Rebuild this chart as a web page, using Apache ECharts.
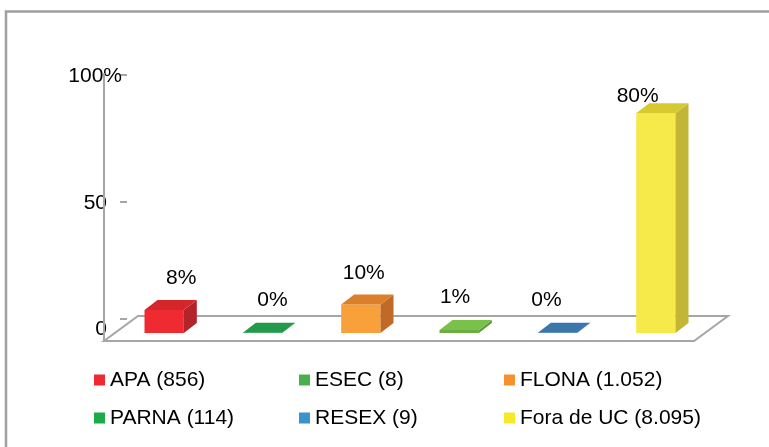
<!DOCTYPE html>
<html>
<head>
<meta charset="utf-8">
<script src="https://cdn.jsdelivr.net/npm/echarts@6/dist/echarts.min.js"></script>
<style>
    html, body { margin: 0; padding: 0; background: #fff; }
    #chart { width: 769px; height: 447px; }
</style>
</head>
<body>
<div id="chart"></div>
<script>
// data
var categories = ['APA', 'ESEC', 'FLONA', 'PARNA', 'RESEX', 'Fora de UC'];
var counts = ['856', '8', '1.052', '114', '9', '8.095'];
var percents = [8.4, 0.1, 10.4, 1.1, 0.1, 79.9];
var yTicks = [0, 50, 100];

// styles
var legendColors = ['#ee2a30', '#4bb04b', '#f5922f', '#1bab4a', '#3b93cc', '#f6e92c'];
var frontColors = ['#ef2b31', '#1f8a42', '#f8a13b', '#6aae40', '#336a98', '#f6ea4b'];
var topColors = ['#d5262c', '#23994a', '#db7f2b', '#7ac14b', '#3c77ab', '#d7ca31'];
var sideColors = ['#b3242a', '#1a7a3a', '#c06a27', '#5e9a38', '#2c5d86', '#c3b536'];

var FONT = '"Liberation Sans", Arial, sans-serif';
var FS = 21;
var GRAY = '#a6a6a6';
var DX = 13, DY = -10;          // bar depth
var FX = 34, FY = -25;          // floor depth
var FRONT_X = -11, FRONT_Y = 8; // floor front edge vs bar front plane
var WALL_TOP = 94.5;            // where the left wall line stops, in bar units

function renderFloor(params, api) {
    var l = api.coord([-0.5, 0]);
    var r = api.coord([categories.length - 0.5, 0]);
    var t = api.coord([-0.5, WALL_TOP]);
    var fl = [l[0] + FRONT_X, l[1] + FRONT_Y];
    var fr = [r[0] + FRONT_X, r[1] + FRONT_Y];
    return {
        type: 'group',
        children: [
            {
                type: 'polygon',
                shape: { points: [fl, fr, [fr[0] + FX, fr[1] + FY], [fl[0] + FX, fl[1] + FY]] },
                style: { fill: '#fff', stroke: GRAY, lineWidth: 2 }
            },
            {
                type: 'line',
                shape: { x1: fl[0], y1: fl[1], x2: fl[0], y2: t[1] },
                style: { stroke: GRAY, lineWidth: 2 }
            }
        ]
    };
}

function renderBar(params, api) {
    var i = api.value(0);
    var v = api.value(1);
    var base = api.coord([i, 0]);
    var top = api.coord([i, v]);
    var w = api.size([1, 0])[0] * 0.4;
    var x0 = base[0] - w / 2, x1 = base[0] + w / 2;
    var yb = base[1], yt = top[1];
    var h = yb - yt;
    // perspective-ish label placement like the original
    var lx = base[0] + 28.7 - 0.0714 * base[0];
    var ly = yt - 33 + 0.073 * h;
    return {
        type: 'group',
        children: [
            {
                type: 'rect',
                shape: { x: x0, y: yt, width: w, height: h },
                style: { fill: frontColors[i] }
            },
            {
                type: 'polygon',
                shape: { points: [[x1, yb], [x1, yt], [x1 + DX, yt + DY], [x1 + DX, yb + DY]] },
                style: { fill: sideColors[i] }
            },
            {
                type: 'polygon',
                shape: { points: [[x0, yt], [x1, yt], [x1 + DX, yt + DY], [x0 + DX, yt + DY]] },
                style: { fill: topColors[i] }
            },
            {
                type: 'text',
                style: {
                    text: Math.round(v) + '%',
                    x: lx, y: ly,
                    align: 'center', verticalAlign: 'middle',
                    font: FS + 'px ' + FONT,
                    fill: '#000'
                }
            }
        ]
    };
}

var series = [{
    name: 'floor',
    type: 'custom',
    xAxisIndex: 0, yAxisIndex: 0,
    renderItem: renderFloor,
    data: [[0, 0]],
    silent: true
}];

for (var i = 0; i < categories.length; i++) {
    series.push({
        name: categories[i] + ' (' + counts[i] + ')',
        type: 'custom',
        xAxisIndex: 0, yAxisIndex: 0,
        itemStyle: { color: legendColors[i] },
        renderItem: renderBar,
        data: [[i, percents[i]]]
    });
}

var labelStyle = { fontSize: FS, fontFamily: FONT, color: '#000' };
var noLine = { show: false };

var option = {
    animation: false,
    graphic: [{
        type: 'rect',
        shape: { x: 6, y: 11.5, width: 820, height: 520 },
        style: { fill: 'none', stroke: '#a0a0a0', lineWidth: 2.5 },
        silent: true
    }],
    legend: {
        data: series.slice(1).map(function (s) { return s.name; }),
        left: 94, top: 361, width: 630, padding: 0,
        orient: 'horizontal',
        itemWidth: 11, itemHeight: 11, itemGap: 0,
        icon: 'rect',
        selectedMode: false,
        textStyle: {
            fontSize: FS, fontFamily: FONT, color: '#000',
            width: 189, lineHeight: 38, overflow: 'none'
        }
    },
    grid: [
        { left: 115, right: 64, top: 58, bottom: 114 },
        { left: 127, width: 1, top: 74.5, bottom: 128 },
        { left: 127, width: 1, top: 76.5, bottom: 117.5 }
    ],
    xAxis: [
        { type: 'value', gridIndex: 0, min: -0.5, max: categories.length - 0.5, show: false },
        { type: 'value', gridIndex: 1, min: 0, max: 1, show: false },
        { type: 'value', gridIndex: 2, min: 0, max: 1, show: false }
    ],
    yAxis: [
        { type: 'value', gridIndex: 0, min: 0, max: 100, show: false },
        // ticks 0 and 100
        {
            type: 'value', gridIndex: 1, position: 'left', offset: 0,
            min: yTicks[0], max: yTicks[2],
            axisLine: { show: false, onZero: false },
            axisTick: { show: true, length: 7, customValues: [yTicks[0], yTicks[2]], lineStyle: { color: GRAY, width: 2 } },
            axisLabel: noLine, splitLine: noLine
        },
        // tick 50 (sits a bit lower in the original's perspective)
        {
            type: 'value', gridIndex: 1, position: 'left', offset: 0,
            min: 0, max: 104.5,
            axisLine: { show: false, onZero: false },
            axisTick: { show: true, length: 7, customValues: [yTicks[1]], lineStyle: { color: GRAY, width: 2 } },
            axisLabel: noLine, splitLine: noLine
        },
        // labels 0 and 50
        {
            type: 'value', gridIndex: 2, position: 'left', offset: 0,
            min: yTicks[0], max: yTicks[2],
            axisLine: { show: false, onZero: false },
            axisTick: noLine, splitLine: noLine,
            axisLabel: Object.assign({ margin: 20, customValues: [yTicks[0], yTicks[1]] }, labelStyle)
        },
        // label 100%
        {
            type: 'value', gridIndex: 2, position: 'left', offset: 0,
            min: yTicks[0], max: yTicks[2],
            axisLine: { show: false, onZero: false },
            axisTick: noLine, splitLine: noLine,
            axisLabel: Object.assign({ margin: 5, customValues: [yTicks[2]], formatter: '{value}%' }, labelStyle)
        }
    ],
    series: series
};

var myChart = echarts.init(document.getElementById('chart'));
myChart.setOption(option);
</script>
</body>
</html>
